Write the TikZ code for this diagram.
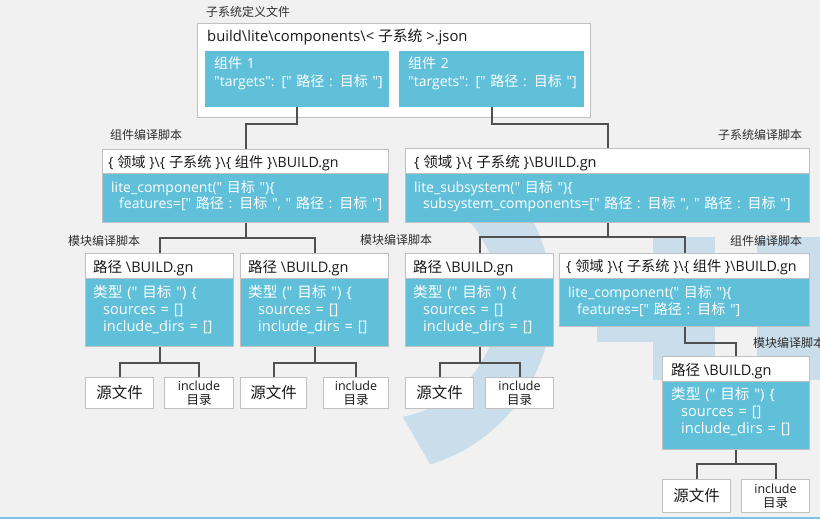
\documentclass[tikz,border=0pt]{standalone}
\usepackage{fontspec}
\setmainfont{Open Sans}[Ligatures=TeXOff]
\newfontfamily\cjkf{Noto Sans CJK SC}
\newcommand\z[1]{{\cjkf #1}}
\newcommand\bs{\textbackslash}
\definecolor{bgc}{RGB}{241,241,241}
\definecolor{blu}{RGB}{96,192,218}
\definecolor{bdc}{RGB}{192,192,192}
\definecolor{lnc}{RGB}{80,80,80}
\definecolor{wmc}{RGB}{201,221,234}
\definecolor{blc}{RGB}{125,195,232}
\definecolor{lblc}{RGB}{45,45,45}
\definecolor{txc}{RGB}{25,25,25}
\tikzset{
  wbox/.style={draw=bdc, fill=white, line width=1pt, inner sep=0, anchor=north west},
  bbox/.style={draw=bdc, fill=blu, line width=1pt, inner sep=0, anchor=north west},
  cbox/.style={fill=blu, inner sep=0, anchor=north west},
  lbl/.style={font=\fontsize{12}{14}\selectfont, text=lblc, inner sep=0, anchor=west},
  hd/.style={font=\fontsize{14.5}{17}\selectfont, text=txc, inner sep=0, anchor=base west},
  hds/.style={hd, font=\fontsize{14.2}{17}\selectfont},
  bt/.style={font=\fontsize{14}{17}\selectfont, text=white, inner sep=0, anchor=base west, text width=420pt, align=left},
  mbt/.style={bt, font=\fontsize{14.6}{17}\selectfont},
  leaf/.style={draw=bdc, fill=white, line width=1pt, inner sep=0, anchor=north west, align=center, text=txc},
  srcf/.style={leaf, font=\fontsize{15.5}{17}\selectfont},
  incf/.style={leaf, font=\fontsize{12.5}{14}\selectfont},
  conn/.style={draw=lnc, line width=2pt},
}
\begin{document}
\begin{tikzpicture}[x=1pt,y=-1pt]
\useasboundingbox (0,0) rectangle (820,519);
\fill[bgc] (0,0) rectangle (820,519);
% watermark
\fill[wmc] (490.6,168.2) arc[start angle=-50,end angle=73,radius=172] -- (402.7,416.8) arc[start angle=79,end angle=-50,radius=119] -- cycle;
\fill[wmc] (653,237) rectangle (715,380);
\fill[wmc] (757,237) rectangle (820,380);
\fill[wmc] (597,325) rectangle (653,342);
\draw[blc, line width=2pt] (0,517.5) -- (820,517.5);

% top definition file
\node[lbl] (lblS) at (206,12) {\z{子系统定义文件}};
\node[wbox, minimum width=393, minimum height=94] (S) at (197,23) {};
\node[hd, font=\fontsize{14.8}{17}\selectfont] (St) at (207,42) {build\bs lite\bs components\bs< \z{子系统} >.json};
\node[cbox, minimum width=184, minimum height=56] (C1) at (205,51) {};
\node[cbox, minimum width=185, minimum height=56] (C2) at (399,51) {};
\node[bt, font=\fontsize{14}{18}\selectfont] (C1t) at (214,69) {\z{组件} 1\\"targets": [" \z{路径} : \z{目标} "]};
\node[bt, font=\fontsize{14}{18}\selectfont] (C2t) at (408,69) {\z{组件} 2\\"targets": [" \z{路径} : \z{目标} "]};

% component build script 1
\node[lbl] (lblCB1) at (110,135) {\z{组件编译脚本}};
\node[wbox, minimum width=286, minimum height=24] (CB1h) at (102,149) {};
\node[bbox, minimum width=286, minimum height=49] (CB1b) at (102,173) {};
\node[hds] (CB1ht) at (108,167) {\{ \z{领域} \}\bs\{ \z{子系统} \}\bs\{ \z{组件} \}\bs BUILD.gn};
\node[bt] (CB1bt) at (111,192) {lite\_component(" \z{目标} ")\{\\\hspace*{8pt}features=[" \z{路径} : \z{目标} ", " \z{路径} : \z{目标} "]};

% subsystem build script
\node[lbl] (lblSB) at (718,135) {\z{子系统编译脚本}};
\node[wbox, minimum width=404, minimum height=25] (SBh) at (405,148) {};
\node[bbox, minimum width=404, minimum height=49] (SBb) at (405,173) {};
\node[hd] (SBht) at (414,167) {\{ \z{领域} \}\bs\{ \z{子系统} \}\bs BUILD.gn};
\node[bt] (SBbt) at (414,192) {lite\_subsystem(" \z{目标} ")\{\\\hspace*{9pt}subsystem\_components=[" \z{路径} : \z{目标} ", " \z{路径} : \z{目标} "]};

% labels second row
\node[lbl] (lblM1) at (68,241) {\z{模块编译脚本}};
\node[lbl] (lblM2) at (360,240) {\z{模块编译脚本}};
\node[lbl] (lblCB2) at (730,241) {\z{组件编译脚本}};
\node[lbl] (lblM4) at (753,343) {\z{模块编译脚本}};

% module boxes
\node[wbox, minimum width=148, minimum height=25] (M1h) at (85,253) {};
\node[bbox, minimum width=148, minimum height=68] (M1b) at (85,278) {};
\node[wbox, minimum width=148, minimum height=25] (M2h) at (240,253) {};
\node[bbox, minimum width=148, minimum height=68] (M2b) at (240,278) {};
\node[wbox, minimum width=148, minimum height=25] (M3h) at (405,253) {};
\node[bbox, minimum width=148, minimum height=68] (M3b) at (405,278) {};
\node[wbox, minimum width=147, minimum height=25] (M4h) at (662,356) {};
\node[bbox, minimum width=147, minimum height=68] (M4b) at (662,381) {};
\node[wbox, minimum width=250, minimum height=25] (CB2h) at (559,253) {};
\node[bbox, minimum width=250, minimum height=48] (CB2b) at (559,278) {};

\node[hd] (M1ht) at (93,272) {\z{路径} \bs BUILD.gn};
\node[hd] (M2ht) at (248,272) {\z{路径} \bs BUILD.gn};
\node[hd] (M3ht) at (413,272) {\z{路径} \bs BUILD.gn};
\node[hd] (M4ht) at (671,375) {\z{路径} \bs BUILD.gn};
\node[hds] (CB2ht) at (566,271) {\{ \z{领域} \}\bs\{ \z{子系统} \}\bs\{ \z{组件} \}\bs BUILD.gn};

\node[mbt] (M1bt) at (93,297) {\z{类型} (" \z{目标} ") \{\\\hspace*{10pt}sources = []\\\hspace*{10pt}include\_dirs = []};
\node[mbt] (M2bt) at (248,297) {\z{类型} (" \z{目标} ") \{\\\hspace*{10pt}sources = []\\\hspace*{10pt}include\_dirs = []};
\node[mbt] (M3bt) at (413,297) {\z{类型} (" \z{目标} ") \{\\\hspace*{10pt}sources = []\\\hspace*{10pt}include\_dirs = []};
\node[mbt] (M4bt) at (671,399) {\z{类型} (" \z{目标} ") \{\\\hspace*{10pt}sources = []\\\hspace*{10pt}include\_dirs = []};
\node[bt] (CB2bt) at (568,297) {lite\_component(" \z{目标} ")\{\\\hspace*{9pt}features=[" \z{路径} : \z{目标} "]};

% leaves
\node[srcf, minimum width=68, minimum height=31] (S1) at (85,377) {\z{源文件}};
\node[incf, minimum width=69, minimum height=31] (I1) at (164,377) {include\\\z{目录}};
\node[srcf, minimum width=66, minimum height=31] (S2) at (240,377) {\z{源文件}};
\node[incf, minimum width=65, minimum height=31] (I2) at (323,377) {include\\\z{目录}};
\node[srcf, minimum width=68, minimum height=31] (S3) at (405,377) {\z{源文件}};
\node[incf, minimum width=68, minimum height=31] (I3) at (485,377) {include\\\z{目录}};
\node[srcf, minimum width=68, minimum height=33] (S4) at (662,479) {\z{源文件}};
\node[incf, minimum width=68, minimum height=33] (I4) at (741,479) {include\\\z{目录}};

% connectors
\draw[conn] (C1.south) -- ++(0,17) -| (CB1h.north);
\draw[conn] (C2.south) -- ++(0,17) -| (SBh.north);
\draw[conn] (CB1b.south) -- ++(0,15) coordinate (k1);
\draw[conn] (k1) -| (M1h.north);
\draw[conn] (k1) -| (M2h.north);
\draw[conn] (SBb.south) -- ++(0,14) coordinate (k2);
\draw[conn] (k2) -| (M3h.north);
\draw[conn] (k2) -| (CB2h.north);
\draw[conn] (CB2b.south) -- ++(0,16) -| (M4h.north);
\draw[conn] (M1b.south) -- ++(0,16) coordinate (k3);
\draw[conn] (k3) -| (S1.north);
\draw[conn] (k3) -| (I1.north);
\draw[conn] (M2b.south) -- ++(0,16) coordinate (k4);
\draw[conn] (k4) -| (S2.north);
\draw[conn] (k4) -| (I2.north);
\draw[conn] (M3b.south) -- ++(0,16) coordinate (k5);
\draw[conn] (k5) -| (S3.north);
\draw[conn] (k5) -| (I3.north);
\draw[conn] (M4b.south) -- ++(0,14) coordinate (k6);
\draw[conn] (k6) -| (S4.north);
\draw[conn] (k6) -| (I4.north);
\end{tikzpicture}
\end{document}
